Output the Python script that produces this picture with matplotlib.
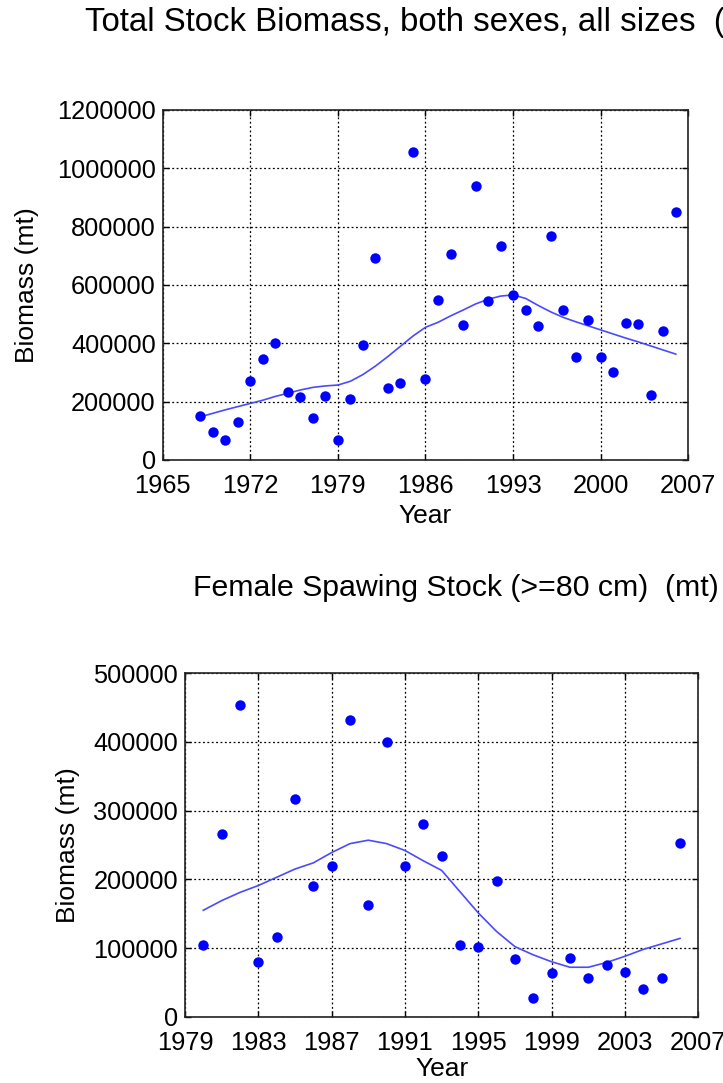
import matplotlib
matplotlib.use("Agg")
import matplotlib.pyplot as plt
import numpy as np

plt.rcParams['font.family'] = ['Liberation Sans', 'DejaVu Sans']

# ---- Data: Total stock biomass ----
years_total = list(range(1968, 2007))
biomass_total = [150000, 95000, 70000, 131000, 272000, 345000, 402000, 232000, 216000,
                 143000, 218000, 70000, 208000, 394000, 694000, 248000, 263000, 1057000,
                 277000, 549000, 707000, 463000, 939000, 546000, 735000, 566000, 514000,
                 459000, 768000, 514000, 354000, 480000, 354000, 303000, 471000, 467000,
                 223000, 441000, 849000]
smooth_total = [148000, 160000, 172000, 183000, 194000, 205000, 218000, 229000, 240000,
                249000, 254000, 257000, 270000, 293000, 322000, 355000, 390000, 425000,
                455000, 472000, 494000, 514000, 535000, 551000, 562000, 566000, 554000,
                530000, 508000, 489000, 474000, 460000, 446000, 432000, 418000, 405000,
                391000, 377000, 363000]

# ---- Data: Female spawning stock ----
years_fem = list(range(1980, 2007))
biomass_fem = [104000, 266000, 454000, 79000, 116000, 317000, 191000, 220000, 432000,
               162000, 400000, 220000, 281000, 234000, 105000, 102000, 197000, 84000,
               27000, 63000, 86000, 57000, 76000, 65000, 41000, 56000, 253000]
smooth_fem = [155000, 169000, 181000, 191000, 203000, 215000, 224000, 239000, 252000,
              257000, 252000, 242000, 227000, 213000, 182000, 151000, 124000, 102000,
              90000, 80000, 72000, 72000, 79000, 88000, 98000, 106000, 114000]

title_total = "Total Stock Biomass, both sexes, all sizes  (mt)"
title_fem = "Female Spawing Stock (>=80 cm)  (mt)"
xticks_total = [1965, 1972, 1979, 1986, 1993, 2000, 2007]
yticks_total = [0, 200000, 400000, 600000, 800000, 1000000, 1200000]
xticks_fem = [1979, 1983, 1987, 1991, 1995, 1999, 2003, 2007]
yticks_fem = [0, 100000, 200000, 300000, 400000, 500000]

W, H = 723, 1083
fig = plt.figure(figsize=(W / 100, H / 100), dpi=100)

FS = 18.3
FS_LABEL = 19
FS_TITLE1 = 23.8
FS_TITLE2 = 21.8
dot_color = '#0000ff'
line_color = '#4a4aff'


def style(ax, xt, yt):
    ax.set_xticks(xt)
    ax.set_yticks(yt)
    ax.set_xticklabels([str(v) for v in xt])
    ax.set_yticklabels([str(v) for v in yt])
    ax.tick_params(direction='in', length=4, width=1, top=True, right=True,
                   labelsize=FS, colors='black')
    ax.tick_params(axis='x', pad=10)
    ax.tick_params(axis='y', pad=5)
    ax.grid(True, linestyle=(0, (1.5, 2)), color='black', linewidth=0.9)
    for s in ax.spines.values():
        s.set_linewidth(1.2)
        s.set_color('#222222')
    ax.set_axisbelow(True)


# Top axes
ax1 = fig.add_axes([162.7 / W, 1 - 460 / H, 525.6 / W, 350 / H])
ax1.plot(years_total, smooth_total, color=line_color, linewidth=1.2, zorder=3)
ax1.plot(years_total, biomass_total, 'o', color=dot_color, markersize=7.5,
         markeredgewidth=0, zorder=4)
ax1.set_xlim(1965, 2007)
ax1.set_ylim(0, 1200000)
style(ax1, xticks_total, yticks_total)
ax1.set_xlabel("Year", fontsize=FS_LABEL, va='center')
ax1.xaxis.set_label_coords(0.5, (460 - 516) / 350)
ax1.set_ylabel("Biomass (mt)", fontsize=FS_LABEL, va='center')
ax1.yaxis.set_label_coords((27 - 162.7) / 525.6, 0.5)

# Bottom axes
ax2 = fig.add_axes([185 / W, 1 - 1016.7 / H, 513.3 / W, 343.4 / H])
ax2.plot(years_fem, smooth_fem, color=line_color, linewidth=1.2, zorder=3)
ax2.plot(years_fem, biomass_fem, 'o', color=dot_color, markersize=7.5,
         markeredgewidth=0, zorder=4)
ax2.set_xlim(1979, 2007)
ax2.set_ylim(0, 500000)
style(ax2, xticks_fem, yticks_fem)
ax2.set_xlabel("Year", fontsize=FS_LABEL, va='center')
ax2.xaxis.set_label_coords(0.5, (1016.7 - 1069) / 343.4)
ax2.set_ylabel("Biomass (mt)", fontsize=FS_LABEL, va='center')
ax2.yaxis.set_label_coords((68 - 185) / 513.3, 0.5)

fig.text(85 / W, 1 - 23 / H, title_total, fontsize=FS_TITLE1, ha='left', va='center')
fig.text(193 / W, 1 - 588 / H, title_fem, fontsize=FS_TITLE2, ha='left', va='center')

fig.savefig("out.png", dpi=100, facecolor='white')
